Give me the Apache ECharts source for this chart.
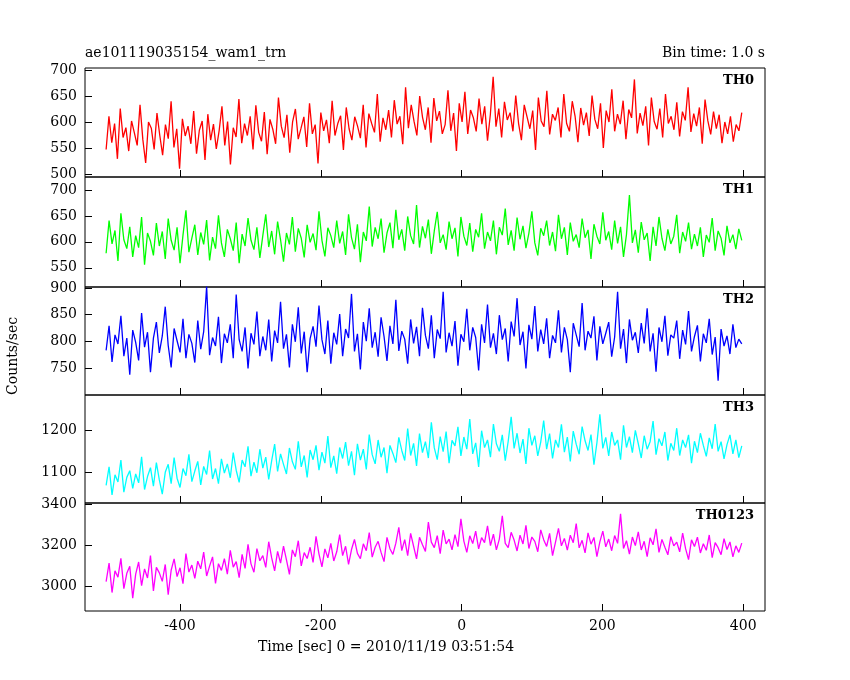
<!DOCTYPE html>
<html><head><meta charset="utf-8">
<script src="https://cdn.jsdelivr.net/npm/echarts@6/dist/echarts.min.js"></script>
<style>html,body{margin:0;background:#fff}#c{width:850px;height:680px}</style>
</head><body><div id="c"></div>
<script>
const names=["TH0","TH1","TH2","TH3","TH0123"];
const colors=["#ff0000","#00ff00","#0000ff","#00ffff","#ff00ff"];
const xStart=-505, xEnd=398;
const xTicks=[-400,-200,0,200,400];
const th0=[548,612,561,598,530,627,571,590,545,603,580,556,634,567,522,601,589,548,618,575,537,596,569,641,552,588,511,607,574,593,559,622,540,585,603,528,616,566,597,549,584,631,556,602,519,590,572,645,560,598,575,612,548,633,581,564,620,539,606,587,559,648,593,571,615,542,601,626,568,589,611,553,637,578,596,521,619,584,605,560,642,575,598,613,547,629,588,566,611,593,570,634,552,617,598,581,655,563,609,586,624,571,643,597,612,558,668,589,634,602,575,651,610,586,629,561,647,603,622,578,596,662,584,618,545,637,601,659,578,624,609,583,646,597,631,565,615,688,592,627,571,640,605,619,583,652,598,566,634,611,588,623,547,648,603,592,661,577,616,604,629,571,655,598,583,641,612,562,628,595,619,574,652,606,588,637,551,623,601,664,583,616,597,642,568,625,609,683,579,618,594,631,556,648,602,587,627,571,655,598,612,586,639,573,621,604,668,582,617,593,629,559,644,603,577,621,588,615,560,601,578,612,563,596,584,619];
const th1=[578,641,596,622,563,655,604,587,629,571,612,589,648,556,617,601,574,636,592,620,567,645,603,584,628,559,613,661,580,607,633,575,618,595,642,564,609,587,651,598,571,624,606,583,637,559,615,592,646,603,585,628,569,612,653,590,621,576,639,604,562,617,595,648,581,626,607,570,633,599,616,584,659,603,572,627,612,589,641,597,620,575,653,608,586,634,561,619,602,668,591,628,606,645,579,617,637,588,662,604,624,583,649,612,596,671,589,630,607,643,577,621,658,598,614,585,639,606,627,572,648,611,593,636,581,624,609,655,587,619,602,641,576,628,613,664,594,622,583,647,605,631,588,617,659,598,574,626,612,641,593,619,582,652,606,628,575,637,601,614,589,645,608,623,567,634,611,596,657,603,620,585,641,597,629,571,614,690,598,623,579,638,604,617,563,629,592,648,607,583,624,596,611,652,578,619,601,637,586,615,592,628,571,613,599,646,583,621,607,574,631,598,614,586,625,603];
const th2=[783,829,761,812,795,848,772,806,737,821,798,764,853,789,817,742,806,836,778,810,865,792,751,824,801,779,842,768,813,796,760,839,785,818,903,774,807,791,846,759,814,797,832,768,888,803,781,826,749,815,794,856,772,809,783,841,762,820,797,874,786,813,751,832,799,864,777,818,742,805,828,790,867,803,776,839,758,816,794,851,772,823,806,889,781,814,747,836,800,862,788,817,771,845,809,763,829,795,878,782,819,804,758,841,796,827,772,863,811,786,849,768,822,805,893,779,816,791,838,754,813,799,861,783,826,807,745,832,797,869,788,815,776,849,803,824,762,837,809,881,793,818,749,831,804,866,781,822,795,843,768,811,797,858,779,826,803,742,834,812,790,872,783,819,806,847,764,828,795,815,836,771,808,893,786,823,759,841,802,817,778,834,796,862,781,815,743,826,799,848,773,812,806,839,767,821,794,857,781,809,830,762,814,797,842,775,808,726,823,791,810,776,832,788,804,795];
const th3=[1068,1112,1045,1093,1076,1128,1052,1087,1103,1061,1095,1074,1136,1058,1089,1110,1066,1122,1081,1047,1099,1118,1072,1134,1085,1063,1108,1091,1142,1077,1102,1125,1069,1113,1094,1151,1083,1108,1072,1131,1097,1119,1086,1146,1104,1075,1128,1112,1161,1090,1123,1098,1154,1109,1135,1082,1127,1166,1101,1143,1118,1095,1157,1124,1106,1173,1112,1139,1087,1152,1129,1163,1104,1147,1121,1185,1110,1138,1096,1158,1132,1171,1115,1149,1092,1167,1128,1154,1106,1189,1141,1119,1176,1135,1158,1097,1163,1144,1122,1182,1151,1127,1203,1139,1168,1114,1191,1146,1172,1133,1218,1157,1129,1184,1148,1196,1121,1175,1162,1207,1138,1183,1154,1226,1143,1169,1112,1198,1158,1176,1135,1214,1167,1149,1188,1127,1173,1231,1156,1192,1145,1178,1119,1204,1163,1186,1138,1171,1222,1154,1191,1132,1176,1158,1213,1147,1183,1125,1197,1166,1142,1208,1174,1151,1189,1117,1169,1237,1156,1182,1138,1195,1163,1176,1129,1211,1158,1184,1146,1199,1167,1133,1186,1154,1172,1221,1141,1179,1162,1195,1127,1168,1151,1204,1139,1176,1158,1188,1121,1173,1146,1192,1163,1137,1181,1155,1214,1149,1172,1131,1165,1188,1143,1176,1134,1162];
const th0123=[3021,3112,2968,3074,3043,3135,2987,3062,3096,2941,3058,3117,3002,3083,3039,3148,2976,3091,3064,3023,3105,2958,3077,3132,3046,3089,3011,3158,3068,3102,3037,3121,3084,3165,3049,3097,3142,3013,3109,3076,3133,3058,3174,3092,3119,3041,3154,3086,3203,3108,3067,3182,3123,3148,3091,3216,3137,3074,3169,3112,3195,3128,3057,3176,3143,3221,3098,3163,3134,3189,3115,3242,3156,3093,3181,3137,3208,3122,3167,3251,3148,3194,3106,3178,3227,3159,3133,3206,3172,3261,3141,3189,3218,3164,3119,3237,3182,3154,3209,3286,3173,3226,3148,3257,3194,3132,3238,3201,3169,3312,3214,3187,3246,3158,3273,3205,3229,3176,3251,3192,3328,3219,3164,3245,3207,3268,3181,3236,3212,3294,3197,3253,3176,3229,3342,3208,3187,3262,3224,3171,3248,3205,3296,3183,3239,3218,3167,3274,3226,3193,3257,3148,3214,3281,3196,3232,3175,3248,3211,3305,3186,3223,3162,3259,3204,3237,3143,3215,3268,3191,3229,3172,3246,3208,3352,3183,3221,3156,3239,3197,3264,3176,3218,3143,3235,3201,3279,3164,3227,3189,3152,3241,3196,3214,3167,3258,3182,3129,3225,3193,3238,3161,3206,3174,3249,3138,3212,3187,3153,3231,3178,3215,3142,3196,3164,3209];
const yTicks=[[500,550,600,650,700],[550,600,650,700],[750,800,850,900],[1100,1200],[3000,3200,3400]];
const yRange=[[495,705],[513,725],[699,902],[1026,1283],[2878,3405]];
const series=[th0,th1,th2,th3,th0123];

const tops=[68,177,287,395,503], hs=[109,110,108,108,108];
const F='"DejaVu Serif", serif';
const grid=[],xAxis=[],yAxis=[],ser=[],graphic=[];
for(let i=0;i<5;i++){
  grid.push({left:85,right:85,top:tops[i],height:hs[i],show:true,borderColor:'#000',borderWidth:1});
  const last=i===4;
  xAxis.push({type:'value',gridIndex:i,min:-535,max:431,position:'bottom',
    axisLine:{show:false,onZero:false},splitLine:{show:false},
    axisTick:{show:true,inside:true,length:7,lineStyle:{color:'#000'},customValues:xTicks},
    axisLabel:{show:last,customValues:xTicks,color:'#000',fontFamily:F,fontSize:14,margin:8,formatter:v=>String(v)}});
  yAxis.push({type:'value',gridIndex:i,min:yRange[i][0],max:yRange[i][1],position:'left',
    axisLine:{show:false,onZero:false},splitLine:{show:false},
    axisTick:{show:true,inside:true,length:7,lineStyle:{color:'#000'},customValues:yTicks[i]},
    axisLabel:{customValues:yTicks[i],color:'#000',fontFamily:F,fontSize:14,margin:8,formatter:v=>String(v)}});
  const d=series[i], st=(xEnd-xStart)/(d.length-1);
  ser.push({type:'line',xAxisIndex:i,yAxisIndex:i,showSymbol:false,animation:false,
    lineStyle:{width:1.3,color:colors[i]},
    data:d.map((v,k)=>[xStart+st*k,v])});
  graphic.push({type:'text',right:96,top:tops[i]+6,style:{text:names[i],font:'bold 13px '+F,fill:'#000'}});
}
graphic.push({type:'text',left:85,top:46,style:{text:'ae101119035154_wam1_trn',font:'14px '+F,fill:'#000'}});
graphic.push({type:'text',right:85,top:46,style:{text:'Bin time: 1.0 s',font:'14px '+F,fill:'#000'}});
graphic.push({type:'text',left:258,top:640,style:{text:'Time [sec] 0 = 2010/11/19 03:51:54',font:'14px '+F,fill:'#000'}});
graphic.push({type:'text',x:6,y:395,rotation:Math.PI/2,style:{text:'Counts/sec',font:'14px '+F,fill:'#000'}});
const chart=echarts.init(document.getElementById('c'));
chart.setOption({animation:false,backgroundColor:'#fff',grid,xAxis,yAxis,series:ser,graphic});
</script></body></html>
